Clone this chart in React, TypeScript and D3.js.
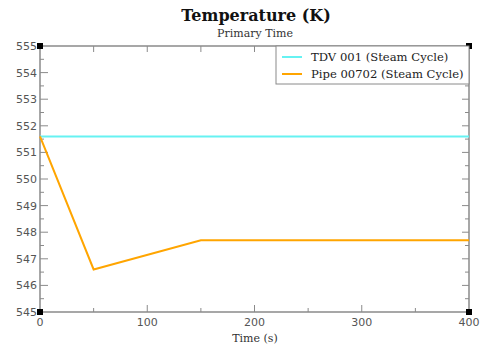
import React from "react";
import * as d3 from "d3";

const timeTdv = [0, 400];
const tempTdv = [551.6, 551.6];
const timePipe = [0, 50, 150, 400];
const tempPipe = [551.6, 546.6, 547.7, 547.7];
const xMajorTicks = [0, 100, 200, 300, 400];
const yMajorTicks = [545, 546, 547, 548, 549, 550, 551, 552, 553, 554, 555];
const seriesNames = ["TDV 001 (Steam Cycle)", "Pipe 00702 (Steam Cycle)"];
const seriesColors = ["#66f2f2", "#ffa500"];

const W = 482, H = 347;
const left = 40, right = 469, top = 46, bottom = 312;

export default function App() {
  const x = d3.scaleLinear().domain([0, 400]).range([left, right]);
  const y = d3.scaleLinear().domain([545, 555]).range([bottom, top]);
  const mk = (xs: number[], ys: number[]) =>
    d3.line<[number, number]>().x(d => x(d[0])).y(d => y(d[1]))(xs.map((v, i) => [v, ys[i]]) as [number, number][]) || "";

  const xMinor = d3.range(50, 400, 100);
  const yMinor = d3.range(545.5, 555, 1);
  const axisColor = "#8a8a8a";
  const tickFont = "DejaVu Sans, sans-serif";
  const serif = "DejaVu Serif, serif";

  return (
    <svg width={W} height={H} style={{ position: "absolute", left: 0, top: 0 }}>
      <rect width={W} height={H} fill="#fff" />
      <text x={256} y={21} textAnchor="middle" fontFamily={serif} fontWeight="bold" fontSize={16} fill="#111">Temperature (K)</text>
      <text x={255} y={37} textAnchor="middle" fontFamily={serif} fontSize={11} fill="#333">Primary Time</text>

      {/* frame */}
      <g stroke={axisColor} strokeWidth={1.5} fill="none">
        <line x1={left} y1={top} x2={right} y2={top} />
        <line x1={left} y1={bottom} x2={right} y2={bottom} />
        <line x1={left} y1={top} x2={left} y2={bottom} />
        <line x1={right} y1={top} x2={right} y2={bottom} />
      </g>

      {/* ticks */}
      <g stroke={axisColor} strokeWidth={1}>
        {yMajorTicks.slice(1, -1).map(v => (
          <g key={"ym" + v}>
            <line x1={left} x2={left + 8} y1={y(v)} y2={y(v)} />
            <line x1={right} x2={right - 7} y1={y(v)} y2={y(v)} />
          </g>
        ))}
        {yMinor.map(v => (
          <g key={"yn" + v}>
            <line x1={left} x2={left + 4} y1={y(v)} y2={y(v)} />
            <line x1={right} x2={right - 4} y1={y(v)} y2={y(v)} />
          </g>
        ))}
        {xMajorTicks.slice(1, -1).map(v => (
          <g key={"xm" + v}>
            <line x1={x(v)} x2={x(v)} y1={bottom} y2={bottom - 7} />
            <line x1={x(v)} x2={x(v)} y1={top} y2={top + 6} />
          </g>
        ))}
        {xMinor.map(v => (
          <g key={"xn" + v}>
            <line x1={x(v)} x2={x(v)} y1={bottom} y2={bottom - 4} />
            <line x1={x(v)} x2={x(v)} y1={top} y2={top + 6} />
          </g>
        ))}
      </g>

      {/* tick labels */}
      <g fontFamily={tickFont} fontSize={11} fill="#555">
        {yMajorTicks.map(v => (
          <text key={"yl" + v} x={left - 3} y={y(v) + 4} textAnchor="end">{v}</text>
        ))}
        {xMajorTicks.map(v => (
          <text key={"xl" + v} x={x(v)} y={bottom + 14} textAnchor="middle">{v}</text>
        ))}
      </g>
      <text x={255} y={342} textAnchor="middle" fontFamily={serif} fontSize={11} fill="#333">Time (s)</text>

      {/* series */}
      <path d={mk(timeTdv, tempTdv)} fill="none" stroke={seriesColors[0]} strokeWidth={2} />
      <path d={mk(timePipe, tempPipe)} fill="none" stroke={seriesColors[1]} strokeWidth={2} strokeLinejoin="miter" />

      {/* corner markers */}
      {[[left, top], [right, top], [left, bottom], [right, bottom]].map(([cx, cy], i) => (
        <rect key={"c" + i} x={cx - 3} y={cy - 3} width={6} height={6} fill="#000" />
      ))}

      {/* legend */}
      <g>
        <rect x={276} y={top} width={right - 276} height={38} fill="#fff" stroke={axisColor} strokeWidth={1} />
        {seriesNames.map((n, i) => (
          <g key={n}>
            <line x1={282} x2={302} y1={57 + i * 17} y2={57 + i * 17} stroke={seriesColors[i]} strokeWidth={2} />
            <text x={311} y={61 + i * 17} fontFamily={serif} fontSize={11.6} fill="#222">{n}</text>
          </g>
        ))}
      </g>
    </svg>
  );
}
